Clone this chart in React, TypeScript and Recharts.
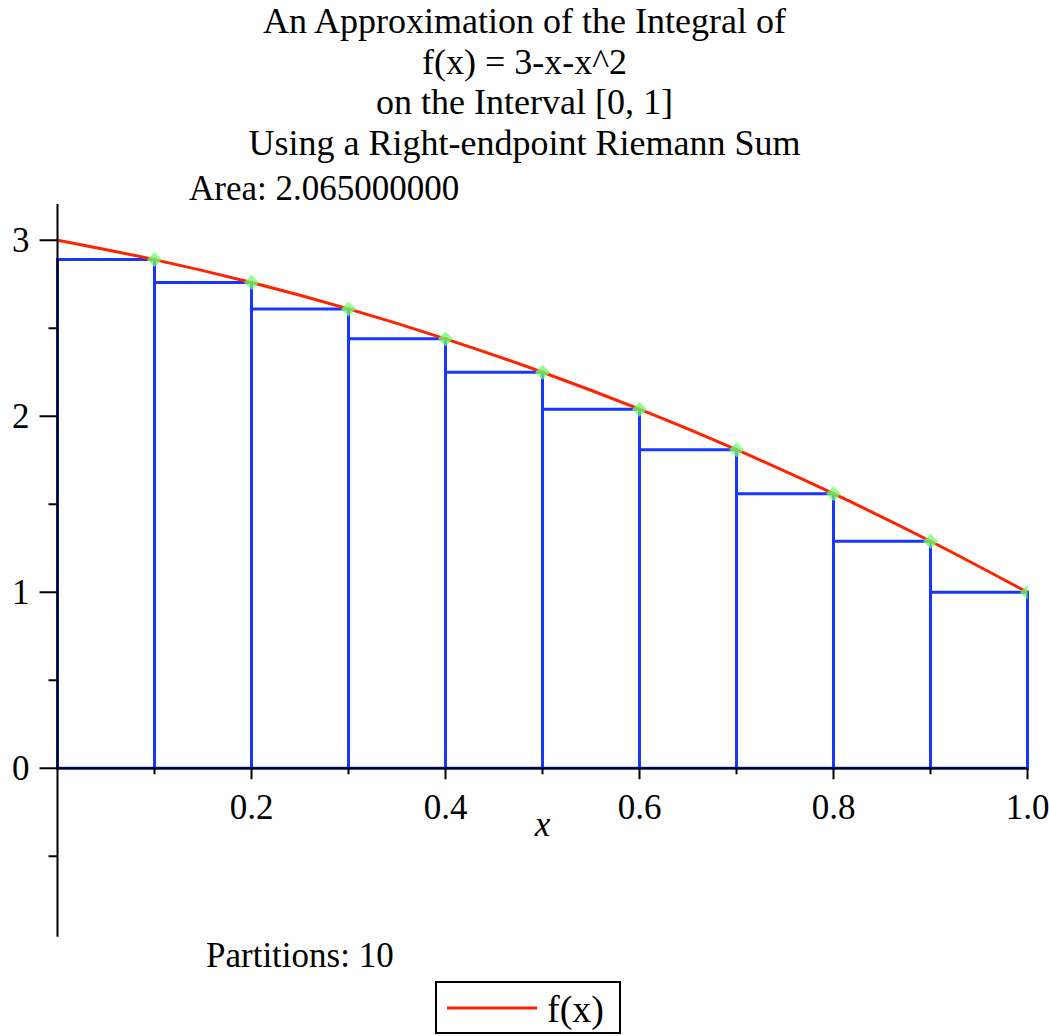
import {
    ComposedChart,
    Line,
    Scatter,
    XAxis,
    YAxis,
    ReferenceArea,
    ReferenceLine,
    ReferenceDot,
    Legend,
} from "recharts";

// f(x) = 3 - x - x^2 read at the partition points
const curveX = [0, 0.1, 0.2, 0.3, 0.4, 0.5, 0.6, 0.7, 0.8, 0.9, 1.0];
const curveY = [3, 2.89, 2.76, 2.61, 2.44, 2.25, 2.04, 1.81, 1.56, 1.29, 1.0];

// right-endpoint rectangles
const rectLeft = [0, 0.1, 0.2, 0.3, 0.4, 0.5, 0.6, 0.7, 0.8, 0.9];
const rectRight = [0.1, 0.2, 0.3, 0.4, 0.5, 0.6, 0.7, 0.8, 0.9, 1.0];
const rectHeight = [2.89, 2.76, 2.61, 2.44, 2.25, 2.04, 1.81, 1.56, 1.29, 1.0];

const xMajorTicks = [0.2, 0.4, 0.6, 0.8, 1.0];
const xMajorLabels = ["0.2", "0.4", "0.6", "0.8", "1.0"];
const xMinorTicks = [0.1, 0.3, 0.5, 0.7, 0.9];
const yTicks = [-0.5, 0, 0.5, 1, 1.5, 2, 2.5, 3];

const titleLines = [
    "An Approximation of the Integral of",
    "f(x) = 3-x-x^2",
    "on the Interval [0, 1]",
    "Using a Right-endpoint Riemann Sum",
];
const areaText = "Area: 2.065000000";
const partitionsText = "Partitions: 10";

const FONT = "'Liberation Serif', 'Times New Roman', serif";
const RED = "#ff2400";
const BLUE = "#1836ff";
const GREEN = "#6cff6c";

const curveData = curveX.map((x, i) => ({ x, y: curveY[i] }));
const pointData = rectRight.map((x, i) => ({ x, y: rectHeight[i] }));

function YTick(props: any) {
    const { x, y, payload } = props;
    const major = Number.isInteger(payload.value);
    return (
        <g>
            <line
                x1={x - (major ? 18 : 9)}
                x2={x}
                y1={y}
                y2={y}
                stroke="#000"
                strokeWidth={2}
            />
            {major && (
                <text
                    x={x - 28}
                    y={y}
                    textAnchor="end"
                    dominantBaseline="central"
                    fontFamily={FONT}
                    fontSize={35}
                    fill="#000"
                >
                    {payload.value}
                </text>
            )}
        </g>
    );
}

function XTick({ cx, cy, label }: any) {
    return (
        <g>
            <line
                x1={cx}
                x2={cx}
                y1={cy}
                y2={cy + (label ? 11 : 6)}
                stroke="#000"
                strokeWidth={2}
            />
            {label && (
                <text
                    x={cx}
                    y={cy + 51}
                    textAnchor="middle"
                    fontFamily={FONT}
                    fontSize={35}
                    fill="#000"
                >
                    {label}
                </text>
            )}
        </g>
    );
}

function Marker({ cx, cy }: any) {
    const s = 7.5;
    return (
        <path
            d={`M${cx},${cy - s} L${cx + s},${cy} L${cx},${cy + s} L${cx - s},${cy} Z`}
            fill={GREEN}
            fillOpacity={0.75}
        />
    );
}

function LegendBox({ payload }: any) {
    const items = (payload || []).filter((p: any) => p.type !== "none");
    return (
        <div
            style={{
                boxSizing: "border-box",
                width: 186,
                height: 53,
                border: "2px solid #000",
                display: "flex",
                alignItems: "center",
                fontFamily: FONT,
                fontSize: 38,
            }}
        >
            {items.map((p: any) => (
                <div key={p.value} style={{ display: "flex", alignItems: "center" }}>
                    <svg width={100} height={10} style={{ marginLeft: 10 }}>
                        <line x1={0} x2={90} y1={5} y2={5} stroke={RED} strokeWidth={3} />
                    </svg>
                    <span style={{ marginTop: 2 }}>{p.value}</span>
                </div>
            ))}
        </div>
    );
}

export default function App() {
    return (
        <div style={{ position: "absolute", left: 0, top: 0, width: 1049, height: 1036 }}>
            <svg
                width={1049}
                height={1036}
                style={{ position: "absolute", left: 0, top: 0 }}
            >
                {titleLines.map((t, i) => (
                    <text
                        key={t}
                        x={524.5}
                        y={33 + i * 40.5}
                        textAnchor="middle"
                        fontFamily={FONT}
                        fontSize={36}
                        fill="#000"
                    >
                        {t}
                    </text>
                ))}
                <text x={189} y={200} fontFamily={FONT} fontSize={35} fill="#000">
                    {areaText}
                </text>
                <text x={206} y={967} fontFamily={FONT} fontSize={35} fill="#000">
                    {partitionsText}
                </text>
            </svg>
            <div style={{ position: "absolute", left: 0, top: 0 }}>
                <ComposedChart
                    width={1049}
                    height={1036}
                    margin={{ top: 204, right: 21.5, bottom: 99.3, left: 0 }}
                >
                    <XAxis type="number" dataKey="x" domain={[0, 1]} hide allowDataOverflow />
                    <YAxis
                        type="number"
                        domain={[-0.957, 3.206]}
                        ticks={yTicks}
                        width={57.5}
                        allowDataOverflow
                        interval={0}
                        tickSize={0}
                        tickMargin={0}
                        tickLine={false}
                        axisLine={{ stroke: "#000", strokeWidth: 2 }}
                        tick={<YTick />}
                    />
                    {rectLeft.map((x1, i) => (
                        <ReferenceArea
                            key={i}
                            x1={x1}
                            x2={rectRight[i]}
                            y1={0}
                            y2={rectHeight[i]}
                            fill="none"
                            fillOpacity={0}
                            stroke={BLUE}
                            strokeWidth={3}
                            strokeOpacity={1}
                        />
                    ))}
                    <ReferenceLine y={0} stroke="#000" strokeWidth={2} />
                    {xMinorTicks.map((v) => (
                        <ReferenceDot key={"m" + v} x={v} y={0} r={0} shape={(p: any) => <XTick {...p} />} />
                    ))}
                    {xMajorTicks.map((v, i) => (
                        <ReferenceDot
                            key={"M" + v}
                            x={v}
                            y={0}
                            r={0}
                            shape={(p: any) => <XTick {...p} label={xMajorLabels[i]} />}
                        />
                    ))}
                    <ReferenceDot
                        x={0.5}
                        y={0}
                        r={0}
                        shape={(p: any) => (
                            <text
                                x={p.cx}
                                y={p.cy + 68}
                                textAnchor="middle"
                                fontFamily={FONT}
                                fontStyle="italic"
                                fontSize={35}
                                fill="#000"
                            >
                                x
                            </text>
                        )}
                    />
                    <Scatter
                        data={pointData}
                        dataKey="y"
                        shape={<Marker />}
                        legendType="none"
                        isAnimationActive={false}
                    />
                    <Line
                        data={curveData}
                        dataKey="y"
                        name="f(x)"
                        type="monotone"
                        stroke={RED}
                        strokeWidth={3}
                        dot={false}
                        activeDot={false}
                        isAnimationActive={false}
                    />
                    <Legend
                        layout="horizontal"
                        verticalAlign="middle"
                        align="center"
                        wrapperStyle={{ left: 435, top: 981, width: 186, height: 53 }}
                        content={<LegendBox />}
                    />
                </ComposedChart>
            </div>
        </div>
    );
}
